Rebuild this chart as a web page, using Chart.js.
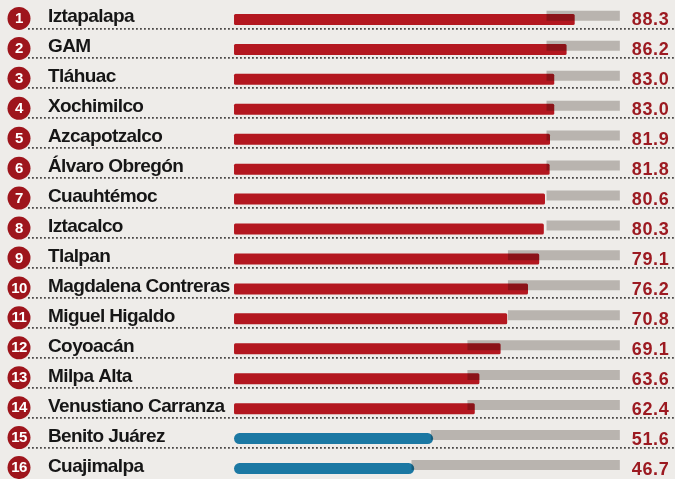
<!DOCTYPE html>
<html><head><meta charset="utf-8">
<script src="https://cdn.jsdelivr.net/npm/chart.js@4"></script>
<style>html,body{margin:0;padding:0;background:#eeece9;}#wrap{width:675px;height:479px;position:relative;}</style>
</head><body><div id="wrap"><canvas id="c"></canvas></div>
<script>
const categories = ['Iztapalapa','GAM','Tláhuac','Xochimilco','Azcapotzalco','Álvaro Obregón','Cuauhtémoc','Iztacalco','Tlalpan','Magdalena Contreras','Miguel Higaldo','Coyoacán','Milpa Alta','Venustiano Carranza','Benito Juárez','Cuajimalpa'];
const values = [88.3,86.2,83.0,83.0,81.9,81.8,80.6,80.3,79.1,76.2,70.8,69.1,63.6,62.4,51.6,46.7];
const greyStart = [81,81,81,81,81,81,81,81,71,71,71,60.5,60.5,60.5,51,46];
const scaleMax = 100;
const blueRows = ['Benito Juárez','Cuajimalpa'];

const RED = '#b3171f', BLUE = '#1b78a3', GREY = '#c6c3c0', BG = '#eeece9';
const NUM_RED = '#9e151c', VAL_RED = '#9c1a21';

const decor = {
  id: 'decor',
  beforeDraw(chart) {
    const ctx = chart.ctx; ctx.save(); ctx.fillStyle = BG; ctx.fillRect(0, 0, chart.width, chart.height); ctx.restore();
  },
  beforeDatasetDraw(chart, args) {
    if (chart.data.datasets[args.index].multiply) { chart.ctx.save(); chart.ctx.globalCompositeOperation = 'multiply'; }
  },
  afterDatasetDraw(chart, args) {
    if (chart.data.datasets[args.index].multiply) chart.ctx.restore();
  },
  afterDatasetsDraw(chart) {
    const ctx = chart.ctx, ys = chart.scales.y, xs = chart.scales.x;
    const left = chart.chartArea.left;
    categories.forEach((name, i) => {
      const py = ys.getPixelForValue(i);
      ctx.save();
      ctx.beginPath(); ctx.arc(left - 9, py - 1, 11.5, 0, Math.PI * 2);
      ctx.fillStyle = NUM_RED; ctx.fill();
      ctx.fillStyle = '#ffffff'; ctx.textAlign = 'center'; ctx.textBaseline = 'middle';
      ctx.font = 'bold 15px "Liberation Sans Narrow", "Liberation Sans"';
      ctx.letterSpacing = '-0.5px';
      ctx.fillText(String(i + 1), left - 9, py - 0.5);
      ctx.textAlign = 'left'; ctx.textBaseline = 'alphabetic';
      ctx.fillStyle = '#161616';
      ctx.font = 'bold 19px "Liberation Sans"';
      ctx.letterSpacing = '-0.6px';
      ctx.fillText(name, left + 20, py + 3);
      ctx.fillStyle = VAL_RED;
      ctx.font = 'bold 18px "Liberation Sans"';
      ctx.letterSpacing = '0.6px';
      ctx.fillText(values[i].toFixed(1), xs.getPixelForValue(scaleMax) + 12, py + 6);
      ctx.restore();
    });
  }
};

new Chart(document.getElementById('c'), {
  type: 'bar',
  data: {
    datasets: [
      {
        label: 'base',
        data: greyStart.map((s, i) => ({ x: [s, scaleMax], y: i })),
        yAxisID: 'yg',
        backgroundColor: GREY,
        grouped: false,
        maxBarThickness: 10,
        barPercentage: 0.9,
        borderRadius: 0,
        borderSkipped: false,
        multiply: true,
        order: 0
      },
      {
        label: 'valor',
        data: values.map((v, i) => ({ x: v, y: i })),
        yAxisID: 'y',
        grouped: false,
        backgroundColor: (c) => blueRows.includes(categories[c.dataIndex]) ? BLUE : RED,
        borderRadius: (c) => blueRows.includes(categories[c.dataIndex]) ? 6 : 1.5,
        borderSkipped: false,
        maxBarThickness: 11,
        barPercentage: 0.9,
        order: 1
      }
    ]
  },
  options: {
    indexAxis: 'y',
    responsive: true,
    maintainAspectRatio: false,
    animation: false,
    layout: { padding: { left: 28, right: 0, top: 0, bottom: 0 } },
    plugins: { legend: { display: false }, tooltip: { enabled: false } },
    scales: {
      x: { type: 'linear', min: -53.4, max: 114.3, display: false, grid: { display: false } },
      y: {
        type: 'linear', reverse: true, min: -0.65, max: 15.35, position: 'left', offset: false,
        afterBuildTicks: (scale) => { scale.ticks = categories.slice(1).map((_, i) => ({ value: i + 0.3 })); },
        ticks: { display: false },
        grid: { offset: false, drawTicks: false, color: 'rgba(55,53,52,0.9)', lineWidth: 1.8 },
        border: { display: false, dash: [1.8, 2.2] }
      },
      yg: {
        type: 'linear', axis: 'y', reverse: true, min: -0.53, max: 15.47, display: false, offset: false,
        afterBuildTicks: (scale) => { scale.ticks = categories.map((_, i) => ({ value: i })); },
        grid: { offset: false }
      }
    }
  },
  plugins: [decor]
});
</script>
</body></html>
